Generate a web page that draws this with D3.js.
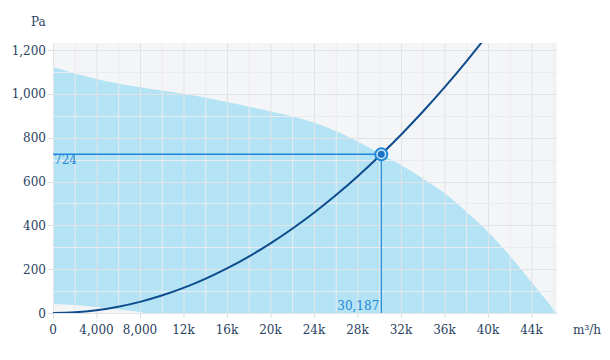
<!DOCTYPE html>
<html><head><meta charset="utf-8">
<script src="https://cdn.jsdelivr.net/npm/d3@7"></script>
<style>body{margin:0;background:#fff}svg{display:block}</style>
</head><body><svg id="c" width="610" height="360"></svg>
<script>
// Fan curve (upper boundary of operating area)
const fanFlow = [0, 4000, 8000, 12000, 16000, 20000, 22000, 24000, 26000, 28000, 30187, 32000, 34000, 36000, 38000, 40000, 42000, 44000, 46300];
const fanPressure = [1123, 1068, 1030, 1000, 963, 920, 898, 868, 831, 783, 724, 675, 614, 547, 462, 370, 262, 140, 0];
// Lower boundary of operating area
const lowFlow = [0, 2000, 4000, 6000, 8000, 8400];
const lowPressure = [41, 36, 27, 16, 4, 0];
// Operating point
const opFlow = 30187, opPressure = 724;
// System curve samples (quadratic through the operating point)
const sysFlow = [0, 2000, 4000, 6000, 8000, 10000, 12000, 14000, 16000, 18000, 20000, 22000, 24000, 26000, 28000, 30187, 32000, 34000, 36000, 38000, 39400];
const sysPressure = [0, 3.2, 12.7, 28.6, 50.9, 79.5, 114.4, 155.7, 203.4, 257.4, 317.8, 384.5, 457.6, 537.0, 622.8, 724, 813.6, 918.5, 1029.7, 1147.3, 1233.6];
const xTicks = [0, 4000, 8000, 12000, 16000, 20000, 24000, 28000, 32000, 36000, 40000, 44000];
const xTickLabels = ["0", "4,000", "8,000", "12k", "16k", "20k", "24k", "28k", "32k", "36k", "40k", "44k"];
const yTicks = [0, 200, 400, 600, 800, 1000, 1200];
const yTickLabels = ["0", "200", "400", "600", "800", "1,000", "1,200"];

const svg = d3.select("#c");
const L = 53, R = 557, T = 43, B = 313;
const x = d3.scaleLinear().domain([0, 46345]).range([L, R]);
const y = d3.scaleLinear().domain([0, 1232]).range([B, T]);
const font = "DejaVu Serif, serif";
const txt = "#2a3f5f";

svg.append("rect").attr("x", L).attr("y", T).attr("width", R - L).attr("height", B - T).attr("fill", "#f4f5f7");

const defs = svg.append("defs");
defs.append("clipPath").attr("id", "pc").append("rect").attr("x", L).attr("y", T).attr("width", R - L).attr("height", B - T);

// operating area fill
const up = fanFlow.map((f, i) => [f, fanPressure[i]]);
const upPath = d3.line().x(d => x(d[0])).y(d => y(d[1])).curve(d3.curveMonotoneX)(up);
const loPath = d3.line().x(d => x(d[0])).y(d => y(d[1])).curve(d3.curveMonotoneX)(lowFlow.map((f, i) => [f, lowPressure[i]]));
svg.append("path")
  .attr("d", upPath + "L" + x(lowFlow[lowFlow.length-1]) + "," + y(0) + "L" + x(0) + "," + y(0) + "Z")
  .attr("fill", "#b3e3f4");
svg.append("path")
  .attr("d", loPath + "L" + x(0) + "," + y(0) + "Z")
  .attr("fill", "#f4f5f7");

// grid
const g = svg.append("g");
const minorX = d3.range(0, 46001, 2000);
const minorY = d3.range(0, 1201, 100);
g.selectAll(".vx").data(minorX).join("line")
  .attr("x1", d => x(d) + 0.5).attr("x2", d => x(d) + 0.5).attr("y1", T).attr("y2", B)
  .attr("stroke", d => d % 4000 === 0 ? "#e2e3e6" : "#ebecef").attr("stroke-width", 1);
g.selectAll(".hy").data(minorY).join("line")
  .attr("y1", d => Math.round(y(d)) + 0.5).attr("y2", d => Math.round(y(d)) + 0.5).attr("x1", L).attr("x2", R)
  .attr("stroke", d => d % 200 === 0 ? "#e2e3e6" : "#ebecef").attr("stroke-width", 1);

// ticks
g.selectAll(".tx").data(xTicks).join("line")
  .attr("x1", d => x(d) + 0.5).attr("x2", d => x(d) + 0.5).attr("y1", B).attr("y2", B + 5)
  .attr("stroke", "#dcdde0");
g.selectAll(".ty").data(yTicks).join("line")
  .attr("y1", d => Math.round(y(d)) + 0.5).attr("y2", d => Math.round(y(d)) + 0.5).attr("x1", L - 5).attr("x2", L)
  .attr("stroke", "#dcdde0");

// tick labels
svg.selectAll(".xl").data(xTicks).join("text")
  .attr("x", d => x(d)).attr("y", 334).attr("text-anchor", "middle")
  .attr("font-family", font).attr("font-size", 12).attr("fill", txt)
  .text((d, i) => xTickLabels[i]);
svg.selectAll(".yl").data(yTicks).join("text")
  .attr("x", 46).attr("y", d => y(d) + 4.5).attr("text-anchor", "end")
  .attr("font-family", font).attr("font-size", 12).attr("fill", txt)
  .text((d, i) => yTickLabels[i]);

svg.append("text").attr("x", 31).attr("y", 26).attr("font-family", font).attr("font-size", 12).attr("fill", txt).text("Pa");
svg.append("text").attr("x", 573).attr("y", 334).attr("font-family", font).attr("font-size", 12).attr("fill", txt).text("m³/h");

// crosshair
const cp = svg.append("g");
cp.append("line").attr("x1", L).attr("x2", x(opFlow)).attr("y1", y(opPressure)).attr("y2", y(opPressure))
  .attr("stroke", "#1f88d8").attr("stroke-width", 1.5);
cp.append("line").attr("x1", x(opFlow)).attr("x2", x(opFlow)).attr("y1", y(opPressure)).attr("y2", B)
  .attr("stroke", "#1f88d8").attr("stroke-width", 1.2);
cp.append("text").attr("x", L + 1).attr("y", y(opPressure) + 10).attr("font-family", font).attr("font-size", 12)
  .attr("fill", "#1f88d8").text(d3.format(",")(opPressure));
cp.append("text").attr("x", x(opFlow) - 2).attr("y", B - 3).attr("text-anchor", "end").attr("font-family", font).attr("font-size", 12)
  .attr("fill", "#1f88d8").text(d3.format(",")(opFlow));

// system curve
svg.append("path").attr("clip-path", "url(#pc)")
  .attr("d", d3.line().x(d => x(d[0])).y(d => y(d[1])).curve(d3.curveMonotoneX)(sysFlow.map((f, i) => [f, sysPressure[i]])))
  .attr("fill", "none").attr("stroke", "#0d4c8c").attr("stroke-width", 2);

// operating point marker
svg.append("circle").attr("cx", x(opFlow)).attr("cy", y(opPressure)).attr("r", 6)
  .attr("fill", "#cfe9f8").attr("stroke", "#1f88d8").attr("stroke-width", 2);
svg.append("circle").attr("cx", x(opFlow)).attr("cy", y(opPressure)).attr("r", 3.5)
  .attr("fill", "#1a74c4");
</script></body></html>
